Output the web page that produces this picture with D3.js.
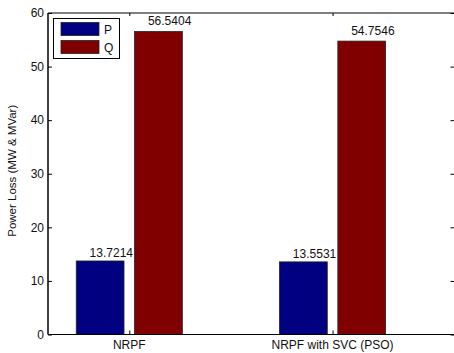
<!DOCTYPE html>
<html>
<head>
<meta charset="utf-8">
<script src="https://cdn.jsdelivr.net/npm/d3@7"></script>
<style>
  html, body { margin: 0; padding: 0; background: #fff; }
  svg { display: block; font-family: "Liberation Sans", Arial, sans-serif; }
</style>
</head>
<body>
<svg id="chart" width="454" height="353"></svg>
<script>
const categories = ["NRPF", "NRPF with SVC (PSO)"];
const seriesNames = ["P", "Q"];
const pValues = [13.7214, 13.5531];
const qValues = [56.5404, 54.7546];
const yTicks = [0, 10, 20, 30, 40, 50, 60];
const colors = ["#000080", "#800000"];

(function () {
const svg = d3.select("#chart");
const mLeft = 48, mRight = 454.5, mTop = 13, mBottom = 334.5;

const x = d3.scaleLinear().domain([0.6, 2.6]).range([mLeft, mRight]);
const y = d3.scaleLinear().domain([0, 60]).range([mBottom, mTop]);

const barW = 0.235, barOff = 0.1435;
const series = [pValues, qValues];

// bars
series.forEach((vals, si) => {
  svg.append("g").selectAll("rect").data(vals).enter().append("rect")
    .attr("x", (d, i) => x(i + 1 + (si === 0 ? -barOff : barOff) - barW / 2))
    .attr("width", x(barW) - x(0))
    .attr("y", d => y(d))
    .attr("height", d => y(0) - y(d))
    .attr("fill", colors[si])
    .attr("stroke", "#222")
    .attr("stroke-width", 0.8);
  svg.append("g").selectAll("text").data(vals).enter().append("text")
    .attr("x", (d, i) => x(i + 1 + (si === 0 ? -barOff : barOff) + 0.055))
    .attr("y", d => y(d) - (si === 0 ? 4 : 6.5))
    .attr("text-anchor", "middle")
    .attr("font-size", "12px")
    .attr("fill", "#111")
    .text(d => d.toFixed(4));
});

// axes frame
svg.append("line").attr("x1", mLeft).attr("x2", mRight).attr("y1", mTop).attr("y2", mTop)
  .attr("stroke", "#000").attr("stroke-width", 1);
svg.append("line").attr("x1", mLeft).attr("x2", mRight).attr("y1", mBottom).attr("y2", mBottom)
  .attr("stroke", "#000").attr("stroke-width", 1.2);
svg.append("line").attr("x1", mLeft).attr("x2", mLeft).attr("y1", mTop).attr("y2", mBottom)
  .attr("stroke", "#000").attr("stroke-width", 1.5);

// y ticks (inward)
const yAxisL = d3.axisRight(y).tickValues(yTicks).tickSize(4).tickFormat("");
svg.append("g").attr("transform", `translate(${mLeft},0)`).call(yAxisL)
  .call(g => g.select(".domain").remove())
  .selectAll("line").attr("stroke", "#000");
const yAxisR = d3.axisLeft(y).tickValues(yTicks).tickSize(4).tickFormat("");
svg.append("g").attr("transform", `translate(${mRight},0)`).call(yAxisR)
  .call(g => g.select(".domain").remove())
  .selectAll("line").attr("stroke", "#000");

// y tick labels
svg.append("g").selectAll("text").data(yTicks).enter().append("text")
  .attr("x", mLeft - 4)
  .attr("y", d => y(d) + 4.3)
  .attr("text-anchor", "end")
  .attr("font-size", "12px")
  .attr("fill", "#111")
  .text(d => d);

// x ticks (inward top/bottom)
const xTickVals = categories.map((c, i) => i + 1);
const xAxisB = d3.axisTop(x).tickValues(xTickVals).tickSize(4).tickFormat("");
svg.append("g").attr("transform", `translate(0,${mBottom})`).call(xAxisB)
  .call(g => g.select(".domain").remove())
  .selectAll("line").attr("stroke", "#000");
const xAxisT = d3.axisBottom(x).tickValues(xTickVals).tickSize(3).tickFormat("");
svg.append("g").attr("transform", `translate(0,${mTop})`).call(xAxisT)
  .call(g => g.select(".domain").remove())
  .selectAll("line").attr("stroke", "#000");

// x labels
svg.append("g").selectAll("text").data(categories).enter().append("text")
  .attr("x", (d, i) => x(i + 1))
  .attr("y", mBottom + 14)
  .attr("text-anchor", "middle")
  .attr("font-size", "12px")
  .attr("fill", "#111")
  .text(d => d);

// y label
svg.append("text")
  .attr("transform", `translate(16,${(mTop + mBottom) / 2 - 3}) rotate(-90)`)
  .attr("text-anchor", "middle")
  .attr("font-size", "11.5px")
  .attr("fill", "#111")
  .text("Power Loss (MW & MVar)");

// legend
const lg = svg.append("g");
lg.append("rect").attr("x", 53.5).attr("y", 18.5).attr("width", 66).attr("height", 40)
  .attr("fill", "#fff").attr("stroke", "#000").attr("stroke-width", 1);
seriesNames.forEach((s, i) => {
  lg.append("rect").attr("x", 61).attr("y", 22.5 + i * 18).attr("width", 38).attr("height", 13)
    .attr("fill", colors[i]).attr("stroke", "#222").attr("stroke-width", 0.8);
  lg.append("text").attr("x", 104).attr("y", 33.5 + i * 18)
    .attr("font-size", "12px").attr("fill", "#111").text(s);
});
})();
</script>
</body>
</html>
